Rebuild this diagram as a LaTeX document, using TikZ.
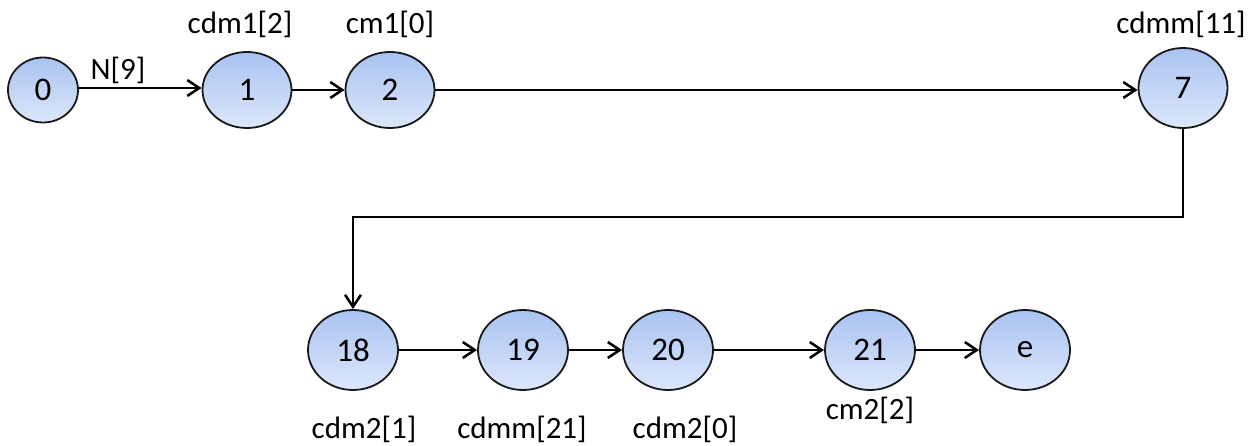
\documentclass[tikz,border=0pt]{standalone}
\usepackage{fontspec}
\setmainfont{Carlito}
\usetikzlibrary{arrows.meta,shapes.geometric}
\definecolor{ntop}{HTML}{A9C3F1}
\definecolor{nbot}{HTML}{DCE7FB}
\begin{document}
\begin{tikzpicture}[x=1pt,y=-1pt,
  st/.style={ellipse,draw=black!90,line width=1.8pt,top color=ntop,bottom color=nbot,
     minimum width=89pt,minimum height=76pt,inner sep=0pt,font=\fontsize{33}{38}\selectfont},
  lbl/.style={font=\fontsize{31}{36}\selectfont,inner sep=0pt},
  ar/.style={line width=2.8pt,-{Straight Barb[length=12pt,width=16pt,line width=2.6pt]}}]
\useasboundingbox (0,0) rectangle (1260,446);
\node[st,minimum width=70pt,minimum height=65pt] (n0) at (43,90) {0};
\node[st] (n1) at (247,90) {1};
\node[st] (n2) at (390,90) {2};
\node[st,minimum height=80pt] (n7) at (1183,88) {7};
\node[st,minimum width=90pt,minimum height=80pt] (n18) at (353,350) {18};
\node[st,minimum width=90pt,minimum height=80pt] (n19) at (523,350) {19};
\node[st,minimum width=90pt,minimum height=80pt] (n20) at (668,350) {20};
\node[st,minimum width=90pt,minimum height=80pt] (n21) at (870,350) {21};
\node[st,minimum width=90pt,minimum height=80pt] (ne) at (1025,350) {e};
\node[lbl] (l9) at (118,70) {N[9]};
\node[lbl] (l1) at (240,24) {cdm1[2]};
\node[lbl] (l2) at (390,24) {cm1[0]};
\node[lbl] (l7) at (1181,24) {cdmm[11]};
\node[lbl] (l18) at (364,429) {cdm2[1]};
\node[lbl] (l19) at (522,429) {cdmm[21]};
\node[lbl] (l20) at (685,429) {cdm2[0]};
\node[lbl] (l21) at (870,410) {cm2[2]};
\coordinate (c1) at (1183,217);
\coordinate (c2) at (353,217);
\draw[ar] (n0.east |- 0,88) -- (n1.west |- 0,88);
\draw[ar] (n1) -- (n2);
\draw[ar] (n2) -- (n7.west |- 0,90);
\draw[ar] (n7.south) -- (c1) -- (c2) -- (n18.north);
\draw[ar] (n18) -- (n19);
\draw[ar] (n19) -- (n20);
\draw[ar] (n20) -- (n21);
\draw[ar] (n21) -- (ne);
\end{tikzpicture}
\end{document}
